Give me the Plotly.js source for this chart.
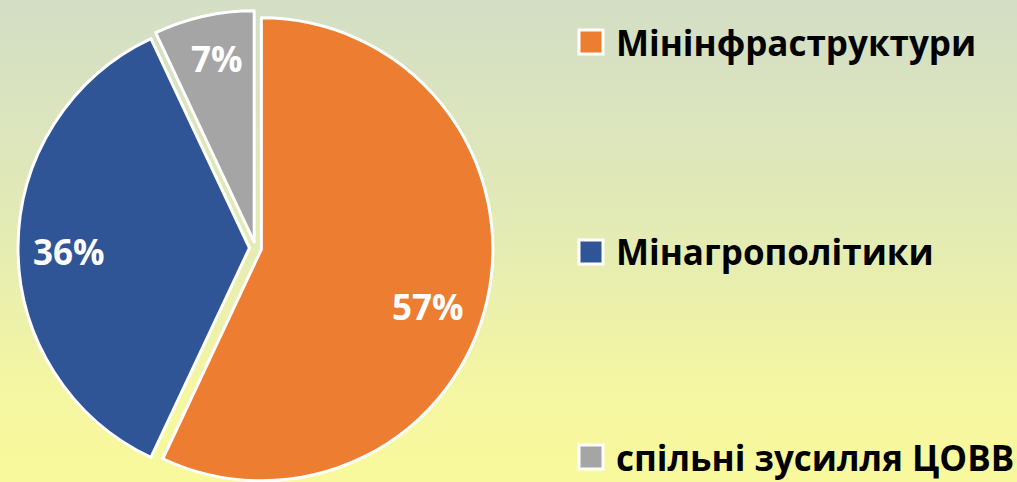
<!DOCTYPE html>
<html>
<head>
<meta charset="utf-8">
<script src="https://cdn.plot.ly/plotly-3.0.1.min.js"></script>
<style>
  html, body { margin: 0; padding: 0; width: 1017px; height: 482px; overflow: hidden;
    background: linear-gradient(to bottom, #D3DEC6 0%, #E2EAB6 45%, #F4F6A2 80%, #F9F99C 100%); }
  #chart { width: 1017px; height: 490px; }
</style>
</head>
<body>
<div id="chart"></div>
<script>
const labels = ['Мінінфраструктури', 'Мінагрополітики', 'спільні зусилля ЦОВВ'];
const values = [57, 36, 7];
const colors = ['#ED7D31', '#2F5597', '#A5A5A5'];

const W = 1017, H = 490;
const FONT = '"Open Sans", "Noto Sans", sans-serif';

// pie geometry (pixels)
const CX = 255.5, CY = 248, PULL = 0.026;
const dom = { x: [18 / W, 493 / W], y: [4.5 / H, 479.5 / H] };
const R = (493 - 18) / 2 / (1 + PULL);

const trace = {
  type: 'pie',
  labels: labels,
  values: values,
  sort: false,
  direction: 'clockwise',
  rotation: 0,
  pull: values.map(() => PULL),
  marker: { colors: colors, line: { color: '#FFFFFF', width: 3 } },
  textinfo: 'none',
  hoverinfo: 'label+percent',
  showlegend: false,
  domain: dom
};

const shapes = [], annotations = [];

// percent labels, placed from the slice angles
const total = values.reduce((a, b) => a + b, 0);
const angAdj = [6, -1, 1];        // degrees
const radFrac = [0.76, 0.78, 0.81];
let cum = 0;
values.forEach((v, i) => {
  const mid = (cum + v / 2) / total * 2 * Math.PI;
  cum += v;
  const a = mid + angAdj[i] * Math.PI / 180;
  const d = PULL * R + radFrac[i] * R;
  const px = CX + d * Math.sin(a);
  const py = CY - d * Math.cos(a);
  annotations.push({
    xref: 'paper', yref: 'paper', x: px / W, y: (H - py) / H,
    xanchor: 'center', yanchor: 'middle', showarrow: false,
    text: Math.round(v / total * 100) + '%',
    font: { family: FONT, size: 35, color: '#FFFFFF', weight: 'bold' }
  });
});

// legend drawn as shapes + annotations
const rowY = [42, 252, 457];
labels.forEach((lab, i) => {
  const py = (H - rowY[i]) / H;
  shapes.push({
    type: 'rect', xref: 'paper', yref: 'paper',
    xsizemode: 'pixel', ysizemode: 'pixel',
    xanchor: 591 / W, yanchor: py,
    x0: -12, x1: 12, y0: -12, y1: 12,
    fillcolor: colors[i], line: { color: '#FFFFFF', width: 3 }
  });
  annotations.push({
    xref: 'paper', yref: 'paper', x: 614 / W, y: py,
    xanchor: 'left', yanchor: 'middle', showarrow: false,
    text: lab,
    font: { family: FONT, size: 35, color: '#000000', weight: 'bold' }
  });
});

const layout = {
  width: W, height: H,
  margin: { l: 0, r: 0, t: 0, b: 0 },
  paper_bgcolor: 'rgba(0,0,0,0)',
  plot_bgcolor: 'rgba(0,0,0,0)',
  showlegend: false,
  shapes: shapes,
  annotations: annotations
};

Plotly.newPlot('chart', [trace], layout, { displayModeBar: false, staticPlot: true });
</script>
</body>
</html>
